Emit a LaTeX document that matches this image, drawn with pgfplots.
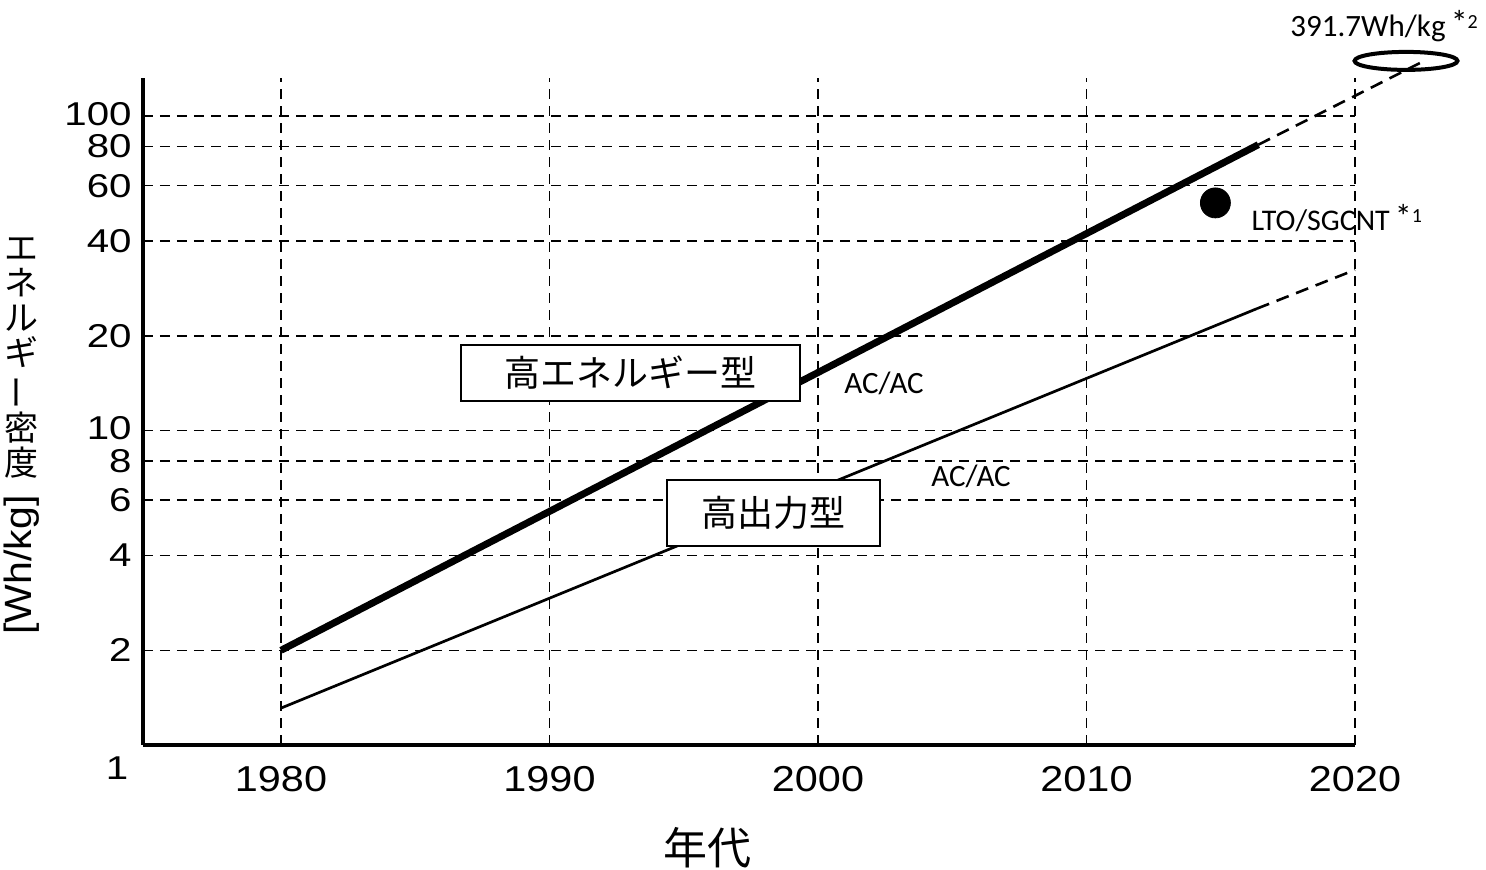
\documentclass[border=0pt]{standalone}
\usepackage{graphicx}
\usepackage{fontspec}
\usepackage{pgfplots}
\pgfplotsset{compat=1.18}
\setmainfont{Liberation Sans}
\newfontfamily\cjk{Noto Sans CJK JP}
\newfontfamily\calib{Carlito}
\newcommand\wide[1]{\scalebox{1.22}[1]{#1}}
\newcommand\xwide[1]{\scalebox{1.15}[1]{#1}}

\begin{document}
\begin{tikzpicture}
\begin{axis}[
  name=ax, at={(0,0)}, anchor=south west,
  scale only axis, width=606pt, height=333.5pt,
  xmin=1974.86, xmax=2020,
  ymode=log, ymin=1, ymax=132,
  clip=false,
  axis line style={draw=none},
  major tick length=0pt,
  xtick={1980,1990,2000,2010,2020},
  xticklabels={\xwide{1980},\xwide{1990},\xwide{2000},\xwide{2010},\xwide{2020}},
  ytick={2,4,6,8,10,20,40,60,80,100},
  yticklabels={\wide{2},\wide{4},\wide{6},\wide{8},\raisebox{2.5pt}{\wide{10}},\wide{20},\wide{40},\wide{60},\wide{80},\raisebox{2pt}{\wide{100}}},
  xticklabel style={font=\fontsize{18}{18}\selectfont, yshift=-7pt},
  yticklabel style={font=\fontsize{16.5}{16.5}\selectfont, inner sep=0pt, xshift=-5.5pt},
  grid=major,
  major grid style={black, line width=0.75pt, dash pattern=on 5pt off 3.5pt},
]
% axis frame: left and bottom only
\draw[line width=2pt] (rel axis cs:0,0) -- (rel axis cs:0,1);
\draw[line width=2.4pt] (rel axis cs:0,0) -- (rel axis cs:1,0);

% high-energy type
\addplot[black, line width=3.5pt, line cap=butt] coordinates {(1980,2) (2016.4,81)};
\addplot[black, line width=1.3pt, dash pattern=on 6.5pt off 4pt] coordinates {(2016.4,81) (2022.6,150)};
% high-power type
\addplot[black, line width=1.35pt] coordinates {(1980,1.31) (2016.35,24.4)};
\addplot[black, line width=1.3pt, dash pattern=on 6.5pt off 4pt] coordinates {(2016.35,24.4) (2020,32.4)};
% LTO/SGCNT cell
\addplot[only marks, mark=*, mark size=7.5pt, black] coordinates {(2014.8,52.9)};
% 391.7 Wh/kg target
\addplot[only marks, mark=o, mark size=4.5pt, black, mark options={xscale=5.72, line width=2pt}] coordinates {(2021.9,149.6)};

\node[draw, fill=white, line width=1pt, minimum width=169.5pt, minimum height=28pt, font=\cjk\fontsize{18}{18}\selectfont, inner sep=0pt]
  at (axis cs:1993.02,15.22) {高エネルギー型};
\node[draw, fill=white, line width=1pt, minimum width=106.5pt, minimum height=33pt, font=\cjk\fontsize{18}{18}\selectfont, inner sep=0pt]
  at (axis cs:1998.34,5.47) {高出力型};

\node[font=\calib\fontsize{15.5}{15.5}\selectfont] at (axis cs:2002.46,14.16) {AC/AC};
\node[font=\calib\fontsize{15.5}{15.5}\selectfont] at (axis cs:2005.70,7.17) {AC/AC};
\node[anchor=west, font=\calib\fontsize{15}{15}\selectfont, inner sep=0pt] at (axis cs:2016.13,47.4)
  {LTO/SGCNT\,\raisebox{1pt}{\fontsize{17}{17}\selectfont *}\raisebox{4pt}{\fontsize{10}{10}\selectfont 1}};
\end{axis}

% y-axis bottom label and axis titles
\node[font=\fontsize{16.5}{16.5}\selectfont] at (-13pt,-11.5pt) {\wide{1}};
\node[anchor=north, align=center, font=\cjk\fontsize{17}{17.5}\selectfont, inner sep=0pt] at (-60.5pt,254pt)
  {エ\\ネ\\ル\\ギ\\\rotatebox[origin=c]{90}{ー}\\密\\度};
\node[rotate=90, font=\fontsize{19}{19}\selectfont, inner sep=0pt] at (-60.5pt,90pt) {\scalebox{1.08}[1]{[Wh/kg]}};
\node[font=\cjk\fontsize{22}{22}\selectfont] at (282pt,-51.5pt) {年代};
\node[anchor=west, font=\calib\fontsize{15.5}{15.5}\selectfont, inner sep=0pt] at (573.5pt,359.5pt)
  {391.7Wh/kg\,\raisebox{1pt}{\fontsize{17}{17}\selectfont *}\raisebox{4pt}{\fontsize{10}{10}\selectfont 2}};

\pgfresetboundingbox
\path[use as bounding box] (-71.5pt,-62.5pt) rectangle (671.5pt,372.5pt);
\end{tikzpicture}
\end{document}
